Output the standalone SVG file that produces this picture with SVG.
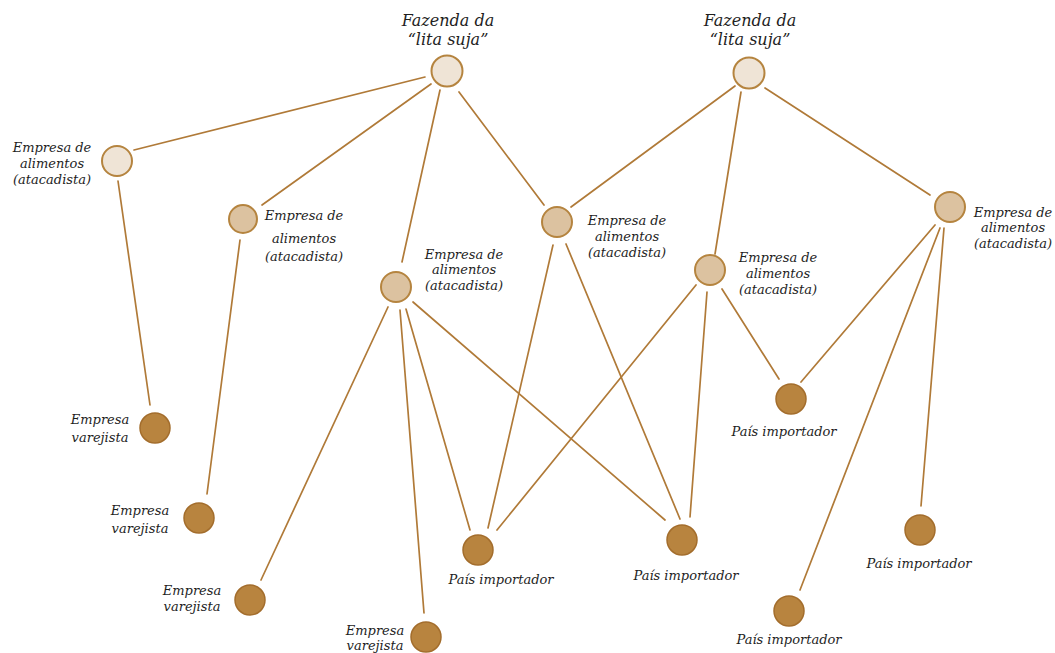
<svg xmlns="http://www.w3.org/2000/svg" width="1055" height="653" viewBox="0 0 1055 653">
<style>
text{font-family:"DejaVu Serif","Liberation Serif",serif;font-style:italic;fill:#1e1e1e;font-size:13px;text-anchor:middle}
.farmt{font-size:16px}
.e{stroke:#b07a38;stroke-width:1.7;stroke-linecap:round;fill:none}
.farm{fill:#efe4d6;stroke:#b5843f;stroke-width:2}
.ws{fill:#dcc2a0;stroke:#b5843f;stroke-width:2}
.end{fill:#b8843f;stroke:#a36d2c;stroke-width:1.5}
</style>
<rect width="1055" height="653" fill="#ffffff"/>
<g id="connectors">
<line class="e" x1="425" y1="77" x2="134" y2="150"/>
<line class="e" x1="431" y1="84" x2="262" y2="205"/>
<line class="e" x1="440" y1="90" x2="402" y2="262"/>
<line class="e" x1="459" y1="92" x2="544" y2="205"/>
<line class="e" x1="735" y1="86" x2="571" y2="207"/>
<line class="e" x1="741" y1="92" x2="715" y2="254"/>
<line class="e" x1="765" y1="88" x2="930" y2="195"/>
<line class="e" x1="118" y1="181" x2="150" y2="405"/>
<line class="e" x1="240" y1="240" x2="207" y2="494"/>
<line class="e" x1="388" y1="307" x2="261" y2="580"/>
<line class="e" x1="400" y1="310" x2="424" y2="613"/>
<line class="e" x1="406" y1="309" x2="470" y2="530"/>
<line class="e" x1="413" y1="302" x2="665" y2="520"/>
<line class="e" x1="553" y1="245" x2="488" y2="528"/>
<line class="e" x1="566" y1="244" x2="680" y2="519"/>
<line class="e" x1="696" y1="285" x2="497" y2="530"/>
<line class="e" x1="707" y1="292" x2="690" y2="517"/>
<line class="e" x1="722" y1="289" x2="779" y2="379"/>
<line class="e" x1="935" y1="225" x2="801" y2="382"/>
<line class="e" x1="940" y1="228" x2="800" y2="590"/>
<line class="e" x1="944" y1="228" x2="921" y2="506"/>
</g>
<g id="farm1"><circle class="farm" cx="447" cy="71" r="15.5"/><text class="farmt" x="448" y="26">Fazenda da</text><text class="farmt" x="448" y="45">“lita suja”</text></g>
<g id="farm2"><circle class="farm" cx="749" cy="73" r="15.5"/><text class="farmt" x="750" y="26">Fazenda da</text><text class="farmt" x="750" y="45">“lita suja”</text></g>
<g id="ws1"><circle class="farm" cx="117" cy="161" r="15"/><text x="52" y="152">Empresa de</text><text x="52" y="168">alimentos</text><text x="52" y="184">(atacadista)</text></g>
<g id="ws2"><circle class="ws" cx="243" cy="219" r="14"/><text x="304" y="220">Empresa de</text><text x="304" y="243">alimentos</text><text x="304" y="261">(atacadista)</text></g>
<g id="ws3"><circle class="ws" cx="396" cy="287" r="15"/><text x="464" y="259">Empresa de</text><text x="464" y="274">alimentos</text><text x="464" y="290">(atacadista)</text></g>
<g id="ws4"><circle class="ws" cx="557" cy="222" r="15"/><text x="627" y="225">Empresa de</text><text x="627" y="241">alimentos</text><text x="627" y="257">(atacadista)</text></g>
<g id="ws5"><circle class="ws" cx="710" cy="270" r="15"/><text x="778" y="262">Empresa de</text><text x="778" y="278">alimentos</text><text x="778" y="294">(atacadista)</text></g>
<g id="ws6"><circle class="ws" cx="950" cy="207" r="15"/><text x="1013" y="217">Empresa de</text><text x="1013" y="232">alimentos</text><text x="1013" y="248">(atacadista)</text></g>
<g id="ret1"><circle class="end" cx="155" cy="428" r="15"/><text x="100" y="424">Empresa</text><text x="100" y="442">varejista</text></g>
<g id="ret2"><circle class="end" cx="199" cy="518" r="15"/><text x="140" y="515">Empresa</text><text x="140" y="533">varejista</text></g>
<g id="ret3"><circle class="end" cx="250" cy="600" r="15"/><text x="192" y="595">Empresa</text><text x="192" y="611">varejista</text></g>
<g id="ret4"><circle class="end" cx="426" cy="637" r="15"/><text x="375" y="635">Empresa</text><text x="375" y="650">varejista</text></g>
<g id="imp1"><circle class="end" cx="478" cy="550" r="15"/><text x="501" y="584">País importador</text></g>
<g id="imp2"><circle class="end" cx="682" cy="540" r="15"/><text x="686" y="580">País importador</text></g>
<g id="imp3"><circle class="end" cx="791" cy="399" r="15"/><text x="784" y="436">País importador</text></g>
<g id="imp4"><circle class="end" cx="920" cy="530" r="15"/><text x="919" y="568">País importador</text></g>
<g id="imp5"><circle class="end" cx="789" cy="611" r="15"/><text x="789" y="644">País importador</text></g>
</svg>
